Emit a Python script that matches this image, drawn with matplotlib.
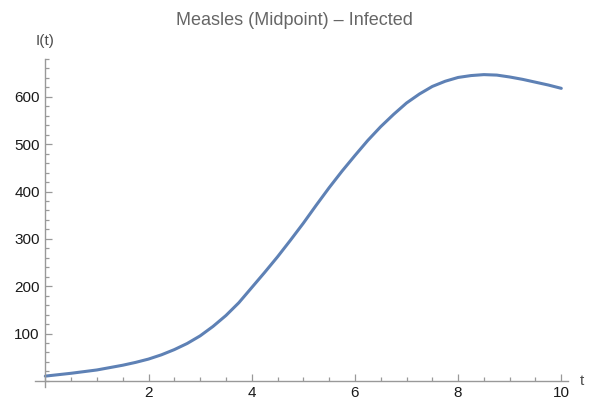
import matplotlib.pyplot as plt
from matplotlib.ticker import MultipleLocator

# Infected population I(t), midpoint method, sampled every quarter day
t_values = [0, 0.25, 0.5, 0.75, 1, 1.25, 1.5, 1.75, 2, 2.25, 2.5,
            2.75, 3, 3.25, 3.5, 3.75, 4, 4.25, 4.5, 4.75, 5,
            5.25, 5.5, 5.75, 6, 6.25, 6.5, 6.75, 7, 7.25, 7.5,
            7.75, 8, 8.25, 8.5, 8.75, 9, 9.25, 9.5, 9.75, 10]
infected = [10, 13, 16, 19.5, 23, 28, 33, 39, 46, 55, 66,
            79, 95, 115, 138, 165, 197, 229, 262, 297, 333,
            371, 408, 443, 476, 508, 537, 563, 587, 606, 622,
            633, 641, 645, 647, 646, 642, 637, 631, 625, 618]
x_ticks = [2, 4, 6, 8, 10]
y_ticks = [100, 200, 300, 400, 500, 600]

plt.rcParams['font.family'] = ['Liberation Sans', 'DejaVu Sans']

fig = plt.figure(figsize=(5.89, 4.04), dpi=100)
ax = fig.add_axes([35 / 589, 17 / 404, 533 / 589, 328 / 404])

ax.plot(t_values, infected, color='#5e81b5', linewidth=2.2, solid_capstyle='round')

ax.set_xlim(-0.2, 10.13)
ax.set_ylim(-13, 680)

axis_gray = '#999999'
for side in ['top', 'right']:
    ax.spines[side].set_visible(False)
for side in ['left', 'bottom']:
    ax.spines[side].set_position(('data', 0))
    ax.spines[side].set_color(axis_gray)
    ax.spines[side].set_linewidth(1.0)

ax.set_xticks(x_ticks)
ax.set_yticks(y_ticks)
ax.xaxis.set_minor_locator(MultipleLocator(0.5))
ax.yaxis.set_minor_locator(MultipleLocator(20))
ax.tick_params(which='both', direction='in', color=axis_gray, width=0.9,
               labelsize=11, labelcolor='#1a1a1a')
ax.tick_params(which='major', length=5, pad=4)
ax.tick_params(which='minor', length=3)

# axis labels sit at the ends of the axes
ax.text(0, 718, 'I(t)', fontsize=11, color='#4d4d4d', ha='center', va='center',
        clip_on=False)
ax.text(10.4, 0, 't', fontsize=11, color='#4d4d4d', ha='center', va='center',
        clip_on=False)

fig.text(0.5, 0.97, 'Measles (Midpoint) – Infected', fontsize=13,
         color='#666666', ha='center', va='top')

plt.savefig('out.png', dpi=100)
plt.close()
